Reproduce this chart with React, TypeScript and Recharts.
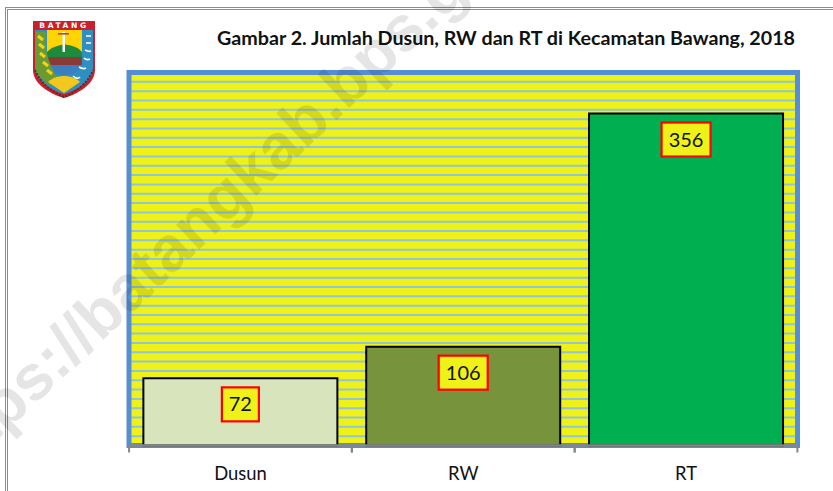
import { BarChart, Bar, XAxis, YAxis, CartesianGrid, Cell, LabelList, ReferenceArea } from 'recharts'

const categories = ['Dusun', 'RW', 'RT']
const values = [72, 106, 356]
const barColors = ['#D8E4BC', '#77933C', '#00B050']
const yDomain = [0, 400]
const gridTicks = [
  0, 10, 20, 30, 40, 50, 60, 70, 80, 90, 100, 110, 120, 130, 140, 150, 160, 170, 180, 190, 200,
  210, 220, 230, 240, 250, 260, 270, 280, 290, 300, 310, 320, 330, 340, 350, 360, 370, 380, 390, 400,
]

const chartData = categories.map((name, i) => ({ name, value: values[i] }))

const BAND = 222.67

function AxisTick({ x, y, payload }: any) {
  return (
    <g>
      <line x1={x - BAND / 2} x2={x - BAND / 2} y1={y - 8} y2={y - 1} stroke="#868686" strokeWidth={2} />
      <line x1={x + BAND / 2} x2={x + BAND / 2} y1={y - 8} y2={y - 1} stroke="#868686" strokeWidth={2} />
      <text x={x} y={480} textAnchor="middle" fontFamily="Lato, sans-serif" fontSize={18.4} fill="#111">
        {payload.value}
      </text>
    </g>
  )
}

function ValueBox({ x, y, width, value }: any) {
  const w = String(value).length > 2 ? 49 : 37
  const cx = x + width / 2
  return (
    <g>
      <rect x={cx - w / 2} y={y + 9} width={w} height={34} fill="#EEF218" stroke="#FF0000" strokeWidth={2.2} />
      <text x={cx} y={y + 33} textAnchor="middle" fontFamily="Lato, sans-serif" fontSize={20} fill="#111">
        {value}
      </text>
    </g>
  )
}

function Logo() {
  return (
    <svg width={64} height={80} viewBox="0 0 64 80" style={{ position: 'absolute', left: 32, top: 20 }}>
      <path d="M1 1H63V50C63 64 46 74 32 78C18 74 1 64 1 50Z" fill="#C8202F" />
      <path d="M3 10H61V48C61 60 45 70 32 74C19 70 3 60 3 48Z" fill="#2E8FC0" />
      <path d="M15 10H50V46H15Z" fill="#FFD400" />
      <path d="M15 32C22 25 28 26 32 24C38 26 44 25 50 32V38H15Z" fill="#1F8A3C" />
      <rect x="30.5" y="12" width="2.5" height="20" fill="#fff" />
      <rect x="26" y="13" width="11" height="1.6" fill="#B5462A" />
      <rect x="15" y="37" width="35" height="8" fill="#8A3A36" />
      <path d="M15 45H50C48 51 41 55 32 55C24 55 17 51 15 45Z" fill="#3C7FC0" />
      <path d="M3 12H14C12 28 16 44 26 58L19 66C9 60 3 54 3 46Z" fill="#6C9A32" />
      <path d="M6 16L11 20M7 24L12 28M8 33L13 37M11 42L16 46M15 50L20 54" stroke="#F2D21E" strokeWidth={3} />
      <path d="M54 16H59M54 23H59M53 30C55 31 57 32 59 31M52 38C54 40 56 40 58 39M47 47C50 49 52 49 54 48M41 56C44 59 46 59 48 57" stroke="#fff" strokeWidth={1.6} fill="none" />
      <path d="M16 62C24 54 40 54 48 62L32 73Z" fill="#F2C81E" />
      <path d="M3 50C9 64 20 72 32 77C44 72 55 64 61 50" stroke="#5A2A22" strokeWidth={1.8} strokeDasharray="2 1.5" fill="none" />
      <text x="32" y="8.2" textAnchor="middle" fontFamily="DejaVu Sans, sans-serif" fontWeight="bold" fontSize={7.5} letterSpacing={2.6} fill="#fff">
        BATANG
      </text>
    </svg>
  )
}

export default function App() {
  return (
    <div style={{ position: 'absolute', left: 0, top: 0, width: 833, height: 491, overflow: 'hidden', background: '#fff' }}>
      <div style={{ position: 'absolute', left: 5, top: 7, width: 840, height: 500, border: '1px solid #8c8c8c' }} />
      <div style={{ position: 'absolute', left: 7, top: 9, width: 840, height: 500, border: '1px solid #8c8c8c' }} />
      <Logo />
      <BarChart
        width={833}
        height={491}
        data={chartData}
        margin={{ top: 72.5, right: 35.5, bottom: 0, left: 129 }}
        barCategoryGap="6.45%"
        style={{ position: 'absolute', left: 0, top: 0 }}
      >
        <CartesianGrid vertical={false} stroke="#8FC5D6" strokeWidth={2} fill="#EEF218" fillOpacity={1} />
        <XAxis
          dataKey="name"
          height={45.5}
          tick={<AxisTick />}
          tickLine={false}
          axisLine={{ stroke: '#868686', strokeWidth: 2.5 }}
          interval={0}
        />
        <YAxis hide domain={yDomain} ticks={gridTicks} interval={0} />
        <ReferenceArea y1={yDomain[0]} y2={yDomain[1]} fill="none" fillOpacity={0} stroke="#558ED5" strokeWidth={5} />
        <Bar dataKey="value" stroke="#000" strokeWidth={2} isAnimationActive={false}>
          {chartData.map((entry, i) => (
            <Cell key={entry.name} fill={barColors[i]} />
          ))}
          <LabelList dataKey="value" content={<ValueBox />} />
        </Bar>
      </BarChart>
      <div
        style={{
          position: 'absolute',
          right: 38,
          top: 26,
          fontFamily: 'Lato, sans-serif',
          fontWeight: 700,
          fontSize: 19.7,
          lineHeight: '24px',
          color: '#111',
          whiteSpace: 'nowrap',
        }}
      >
        Gambar 2. Jumlah Dusun, RW dan RT di Kecamatan Bawang, 2018
      </div>
      <svg width={833} height={491} style={{ position: 'absolute', left: 0, top: 0, pointerEvents: 'none' }}>
        <text
          x={-55}
          y={489}
          transform="rotate(-43.3 -55 489)"
          fontFamily="Liberation Sans, sans-serif"
          fontWeight="bold"
          fontSize={64}
          fill="#000"
          fillOpacity={0.1}
        >
          https://batangkab.bps.go.id
        </text>
      </svg>
    </div>
  )
}
